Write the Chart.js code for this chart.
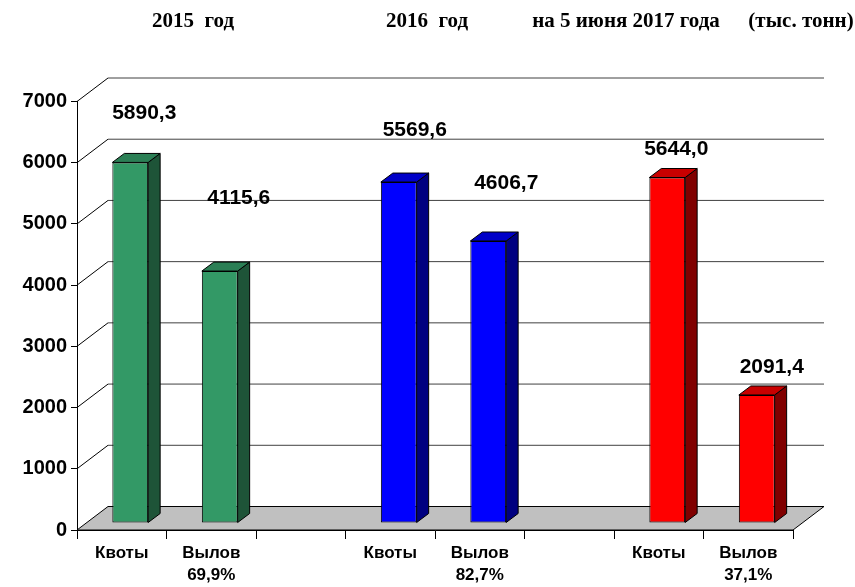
<!DOCTYPE html>
<html><head><meta charset="utf-8">
<script src="https://cdn.jsdelivr.net/npm/chart.js@4/dist/chart.umd.min.js"></script>
<style>html,body{margin:0;padding:0;background:#fff}</style>
</head><body>
<canvas id="c" width="855" height="587"></canvas>
<script>
// ---- data ----
const periods = ["2015  год", "2016  год", "на 5 июня 2017 года"];
const unitLabel = "(тыс. тонн)";
const quotaLabel = "Квоты";
const catchLabel = "Вылов";
const quotas = [5890.3, 5569.6, 5644.0];
const catches = [4115.6, 4606.7, 2091.4];
const catchPct = ["69,9%", "82,7%", "37,1%"];
const yMin = 0, yMax = 7000, yStep = 1000;

// ---- styles ----
const frontColors = ['#339966', '#0000FF', '#FF0000'];
const sideColors  = ['#1E5438', '#000080', '#800000'];
const topColors   = ['#2B7F55', '#0000C8', '#C80000'];

const labels = [], values = [], colorIdx = [];
periods.forEach((p, g) => {
  labels.push(quotaLabel); values.push(quotas[g]); colorIdx.push(g);
  labels.push([catchLabel, catchPct[g]]); values.push(catches[g]); colorIdx.push(g);
  if (g < periods.length - 1) { labels.push(''); values.push(null); colorIdx.push(g); }
});

const G = {wx: 31, wy: -23.5, ox: 8.5, oy: -7, bx: 12, by: -9};
const labelNudge = [[14, -49], [19, -73], [16, -52], [18, -58], [9, -28], [15, -28]];
const headerX = [193, 427, 626, 801];
const headerY = 22;

const threeD = {
  id: 'threeD',
  beforeDatasetsDraw(chart) {
    const ctx = chart.ctx, ys = chart.scales.y, a = chart.chartArea;
    ctx.save();
    ctx.lineWidth = 1;
    ys.ticks.forEach(t => {
      const y = ys.getPixelForValue(t.value);
      if (t.value > yMin) {
        ctx.strokeStyle = '#404040';
        ctx.beginPath();
        ctx.moveTo(a.left + G.wx, y + G.wy);
        ctx.lineTo(a.right + G.wx, y + G.wy);
        ctx.stroke();
        ctx.strokeStyle = '#000';
        ctx.beginPath();
        ctx.moveTo(a.left, y);
        ctx.lineTo(a.left + G.wx, y + G.wy);
        ctx.stroke();
      }
    });
    const y0 = ys.getPixelForValue(yMin);
    ctx.fillStyle = '#C0C0C0';
    ctx.strokeStyle = '#000';
    ctx.beginPath();
    ctx.moveTo(a.left, y0);
    ctx.lineTo(a.right, y0);
    ctx.lineTo(a.right + G.wx, y0 + G.wy);
    ctx.lineTo(a.left + G.wx, y0 + G.wy);
    ctx.closePath();
    ctx.fill();
    ctx.stroke();
    ctx.restore();
  },
  beforeDatasetDraw(chart) {
    chart.ctx.save();
    chart.ctx.translate(G.ox, G.oy);
  },
  afterDatasetDraw(chart) {
    chart.ctx.restore();
  },
  afterDatasetsDraw(chart) {
    const ctx = chart.ctx;
    const meta = chart.getDatasetMeta(0);
    ctx.save();
    ctx.lineWidth = 1;
    ctx.strokeStyle = '#000';
    ctx.lineJoin = 'miter';
    let k = 0;
    meta.data.forEach((el, i) => {
      const v = values[i];
      if (v === null || v === undefined) return;
      const p = el.getProps(['x', 'y', 'base', 'width'], true);
      const L = p.x - p.width / 2 + G.ox, R = p.x + p.width / 2 + G.ox;
      const T = p.y + G.oy, B = p.base + G.oy;
      const c = colorIdx[i];
      // side
      ctx.fillStyle = sideColors[c];
      ctx.beginPath();
      ctx.moveTo(R, T); ctx.lineTo(R + G.bx, T + G.by);
      ctx.lineTo(R + G.bx, B + G.by); ctx.lineTo(R, B);
      ctx.closePath(); ctx.fill(); ctx.stroke();
      // top
      ctx.fillStyle = topColors[c];
      ctx.beginPath();
      ctx.moveTo(L, T); ctx.lineTo(L + G.bx, T + G.by);
      ctx.lineTo(R + G.bx, T + G.by); ctx.lineTo(R, T);
      ctx.closePath(); ctx.fill(); ctx.stroke();
      // value label
      const n = labelNudge[k++] || [0, -20];
      ctx.fillStyle = '#000';
      ctx.font = 'bold 21px "Liberation Sans", Arial, sans-serif';
      ctx.textAlign = 'center';
      ctx.textBaseline = 'middle';
      ctx.fillText(v.toFixed(1).replace('.', ','), (L + R) / 2 + n[0], T + n[1]);
    });
    ctx.restore();
  },
  afterDraw(chart) {
    const ctx = chart.ctx;
    ctx.save();
    ctx.fillStyle = '#000';
    ctx.font = 'bold 21px "Liberation Serif", "Times New Roman", serif';
    ctx.textAlign = 'center';
    ctx.textBaseline = 'middle';
    periods.concat([unitLabel]).forEach((t, i) => ctx.fillText(t, headerX[i], headerY));
    ctx.restore();
  }
};

new Chart(document.getElementById('c'), {
  type: 'bar',
  data: {
    labels: labels,
    datasets: [{
      data: values,
      backgroundColor: colorIdx.map(c => frontColors[c]),
      borderColor: '#000',
      borderWidth: 1,
      borderSkipped: false,
      barPercentage: 0.4,
      categoryPercentage: 1.0,
      clip: false
    }]
  },
  options: {
    responsive: false,
    animation: false,
    layout: {padding: {top: 101.5, right: 62, left: 0, bottom: 0}},
    plugins: {legend: {display: false}, tooltip: {enabled: false}, title: {display: false}},
    scales: {
      y: {
        min: yMin, max: yMax,
        ticks: {stepSize: yStep, color: '#000', padding: 4,
          callback: v => String(v),
          font: {family: '"Liberation Sans", Arial, sans-serif', size: 20, weight: 'bold'}},
        grid: {drawOnChartArea: false, drawTicks: true, tickLength: 6, color: '#000'},
        border: {display: true, color: '#000', width: 1},
        afterFit(s) { s.width = 77; }
      },
      x: {
        ticks: {color: '#000', padding: 3, maxRotation: 0, autoSkip: false,
          font: {family: '"Liberation Sans", Arial, sans-serif', size: 17, weight: 'bold', lineHeight: 1.3}},
        grid: {offset: true, drawOnChartArea: false, drawTicks: true, tickLength: 9, color: '#000'},
        border: {display: true, color: '#000', width: 1},
        afterFit(s) { s.height = 57; }
      }
    }
  },
  plugins: [threeD]
});
</script>
</body></html>
